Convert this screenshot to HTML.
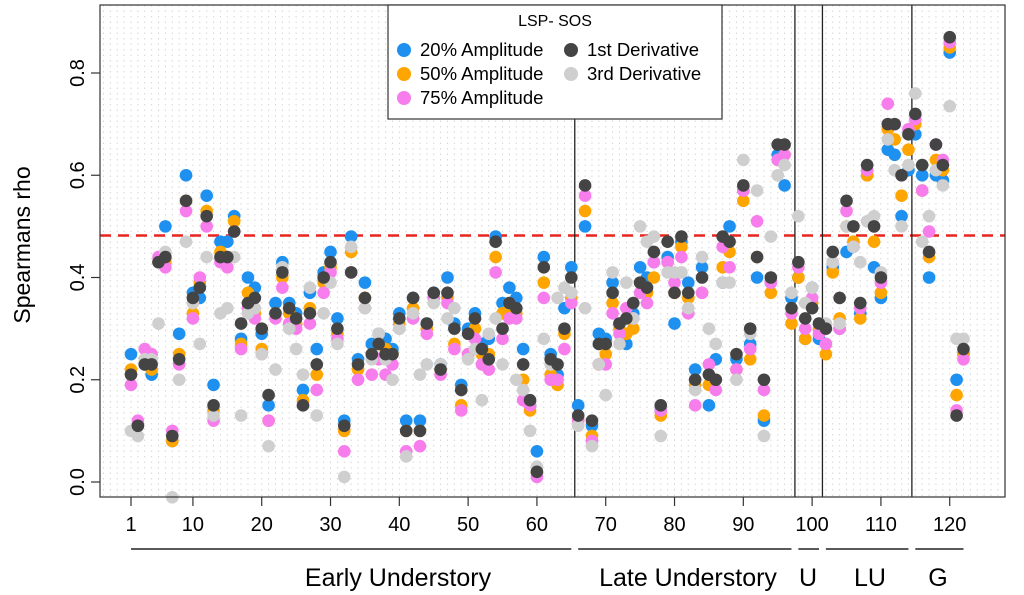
<!DOCTYPE html>
<html><head><meta charset="utf-8"><style>
html,body{margin:0;padding:0;background:#fff}
svg{display:block;font-family:"Liberation Sans",Arial,sans-serif}
</style></head><body>
<svg id="chart" width="1024" height="595" viewBox="0 0 1024 595" xmlns="http://www.w3.org/2000/svg">
<g id="grid"></g>
<line x1="100" x2="1005" y1="235.5" y2="235.5" stroke="#e8251f" stroke-width="2.5" stroke-dasharray="11,7"/>
<g id="groups"></g>
<g id="points"></g>
<rect x="100" y="5" width="905" height="492" fill="none" stroke="#333" stroke-width="1.2"/>
<g id="xaxis"></g>
<g id="yaxis"></g>
<text transform="translate(30,245) rotate(-90)" text-anchor="middle" font-size="23">Spearmans rho</text>
<g>
<rect x="388" y="5" width="334" height="114" fill="#fff" stroke="#333" stroke-width="1.2"/>
<text x="555" y="26" text-anchor="middle" font-size="16">LSP- SOS</text>
<g><circle cx="404" cy="50" r="7" fill="#1e90ef"/><text x="420" y="56" font-size="18.5">20% Amplitude</text></g>
<g><circle cx="404" cy="74" r="7" fill="#ffa500"/><text x="420" y="80" font-size="18.5">50% Amplitude</text></g>
<g><circle cx="404" cy="98" r="7" fill="#f77ded"/><text x="420" y="104" font-size="18.5">75% Amplitude</text></g>
<g><circle cx="571" cy="50" r="7" fill="#444"/><text x="587" y="56" font-size="18.5">1st Derivative</text></g>
<g><circle cx="571" cy="74" r="7" fill="#cfcfcf"/><text x="587" y="80" font-size="18.5">3rd Derivative</text></g>
</g>
</svg>
<script>
const amp20=[.25,.11,.23,.21,.43,.50,.08,.29,.60,.37,.36,.56,.19,.47,.47,.52,.28,.40,.38,.29,.15,.35,.43,.35,.33,.18,.37,.26,.41,.45,.32,.12,.48,.24,.39,.27,.29,.28,.26,.33,.12,.36,.12,.31,.37,.23,.40,.31,.19,.30,.33,.27,.28,.48,.35,.38,.36,.26,.15,.06,.44,.25,.21,.34,.42,.15,.50,.11,.29,.28,.39,.31,.27,.33,.42,.40,.43,.14,.44,.31,.47,.39,.22,.42,.15,.24,.39,.50,.24,.57,.27,.40,.12,.39,.64,.58,.36,.40,.28,.38,.28,.27,.42,.30,.45,.46,.33,.60,.42,.36,.65,.64,.52,.61,.68,.60,.40,.60,.59,.84,.20,.25];
const amp50=[.22,.11,.24,.22,.43,.43,.08,.25,.55,.33,.39,.53,.14,.45,.44,.51,.27,.37,.33,.26,.12,.33,.40,.33,.31,.16,.34,.21,.39,.42,.29,.10,.45,.22,.36,.25,.27,.26,.25,.31,.10,.34,.10,.30,.36,.22,.36,.27,.15,.25,.30,.25,.25,.44,.33,.34,.33,.20,.14,.02,.39,.21,.19,.29,.36,.12,.53,.09,.23,.25,.35,.30,.29,.30,.39,.37,.40,.13,.43,.37,.46,.36,.19,.37,.19,.20,.42,.45,.22,.55,.24,.44,.13,.37,.63,.64,.31,.40,.28,.35,.30,.25,.41,.32,.50,.47,.32,.60,.47,.37,.69,.67,.56,.65,.70,.57,.44,.63,.61,.85,.17,.25];
const amp75=[.19,.12,.26,.25,.44,.42,.10,.23,.53,.32,.40,.50,.12,.43,.42,.49,.26,.34,.32,.25,.12,.32,.38,.31,.30,.15,.31,.18,.37,.41,.28,.06,.41,.20,.34,.21,.24,.21,.23,.30,.06,.32,.07,.29,.36,.21,.35,.26,.14,.25,.28,.23,.22,.41,.28,.32,.32,.16,.15,.01,.36,.20,.20,.26,.35,.12,.56,.08,.23,.23,.33,.29,.34,.32,.37,.35,.43,.14,.43,.39,.44,.33,.15,.37,.23,.18,.46,.42,.22,.57,.26,.51,.18,.39,.63,.64,.33,.42,.30,.36,.29,.27,.43,.30,.53,.46,.34,.61,.50,.39,.74,.70,.60,.69,.71,.57,.49,.66,.63,.86,.14,.24];
const deriv1=[.21,.11,.23,.23,.43,.44,.09,.24,.55,.36,.38,.52,.15,.44,.44,.49,.31,.35,.36,.30,.17,.33,.41,.34,.32,.15,.33,.23,.40,.43,.30,.11,.41,.23,.36,.25,.27,.25,.25,.32,.10,.36,.10,.31,.37,.22,.37,.30,.18,.29,.32,.26,.24,.47,.30,.35,.34,.23,.16,.02,.42,.24,.23,.30,.40,.13,.58,.12,.27,.27,.37,.31,.32,.35,.39,.38,.45,.15,.47,.37,.48,.37,.20,.40,.21,.20,.48,.47,.25,.58,.30,.44,.20,.40,.66,.66,.34,.43,.32,.34,.31,.30,.45,.36,.55,.50,.35,.62,.50,.40,.70,.70,.60,.68,.72,.62,.45,.66,.62,.87,.13,.26];
const deriv3=[.10,.09,.24,.24,.31,.45,-.03,.20,.47,.35,.27,.44,.13,.33,.34,.44,.13,.33,.34,.25,.07,.22,.42,.30,.26,.21,.38,.13,.33,.39,.27,.01,.46,.23,.34,.24,.29,.24,.20,.30,.05,.33,.21,.23,.35,.23,.32,.34,.18,.24,.26,.16,.29,.32,.23,.35,.20,.18,.10,.03,.28,.23,.36,.38,.37,.11,.34,.07,.23,.17,.41,.27,.39,.32,.50,.47,.48,.09,.41,.41,.41,.34,.18,.44,.30,.27,.39,.39,.20,.63,.29,.57,.09,.48,.60,.62,.37,.52,.35,.38,.31,.31,.43,.31,.50,.46,.43,.51,.52,.41,.67,.61,.50,.62,.76,.47,.52,.61,.58,.735,.28,.28];
const xTicks=[1,10,20,30,40,50,60,70,80,90,100,110,120];
const yTicks=[0,0.2,0.4,0.6,0.8];
const yTickLabels=["0.0","0.2","0.4","0.6","0.8"];
const groupNames=["Early Understory","Late Understory","U","LU","G"];
const groupStarts=[1,66,98,102,115];
const groupEnds=[65,97,101,114,122];
const dividers=[65.5,97.5,101.5,114.5];

const NS="http://www.w3.org/2000/svg";
const xs=i=>131+6.88*(i-1);
const ys=v=>482-511.25*v;
function mk(tag,attrs,parent){const e=document.createElementNS(NS,tag);for(const k in attrs)e.setAttribute(k,attrs[k]);parent.appendChild(e);return e;}
const grid=document.getElementById('grid');
for(let i=-3;i<=127;i++){
  const l=mk('line',{x1:xs(i),x2:xs(i),y1:5,y2:497,stroke:'#d6d6d6','stroke-width':1,'stroke-dasharray':'1.5,4'},grid);
  
  
}
const grp=document.getElementById('groups');
dividers.forEach(d=>{
  const l=mk('line',{x1:xs(d),x2:xs(d),y1:5,y2:497,stroke:'#222','stroke-width':1.3},grp);
  
  
});
const pts=document.getElementById('points');
const series=[[amp20,'#1e90ef','point-20-amplitude'],[amp50,'#ffa500','point-50-amplitude'],[amp75,'#f77ded','point-75-amplitude'],[deriv3,'#cfcfcf','point-3rd-derivative'],[deriv1,'#444444','point-1st-derivative']];
series.forEach(([arr,col,name])=>{
  arr.forEach((v,k)=>{
    const c=mk('circle',{cx:xs(k+1),cy:ys(v),r:6.3,fill:col},pts);
    
    
  });
});
const xa=document.getElementById('xaxis');
xTicks.forEach(t=>{
  const l=mk('line',{x1:xs(t),x2:xs(t),y1:497,y2:506,stroke:'#333','stroke-width':1.2},xa);
  
  
  const tx=mk('text',{x:xs(t),y:531,'text-anchor':'middle','font-size':20},xa);
  tx.textContent=t;
  
  
});
const labelX=[398,688,808,870,938];
groupNames.forEach((g,k)=>{
  const x1=xs(groupStarts[k]),x2=xs(groupEnds[k]);
  const l=mk('line',{x1:x1,x2:x2,y1:549,y2:549,stroke:'#222','stroke-width':1.5},xa);
  
  
  const tx=mk('text',{x:labelX[k],y:586,'text-anchor':'middle','font-size':25},xa);
  tx.textContent=g;
  
  
});
const ya=document.getElementById('yaxis');
yTicks.forEach((t,k)=>{
  const l=mk('line',{x1:91,x2:100,y1:ys(t),y2:ys(t),stroke:'#333','stroke-width':1.2},ya);
  
  
  const tx=mk('text',{transform:`translate(84,${ys(t)}) rotate(-90)`,'text-anchor':'middle','font-size':20},ya);
  tx.textContent=yTickLabels[k];
  
  
});
</script>
</body></html>
